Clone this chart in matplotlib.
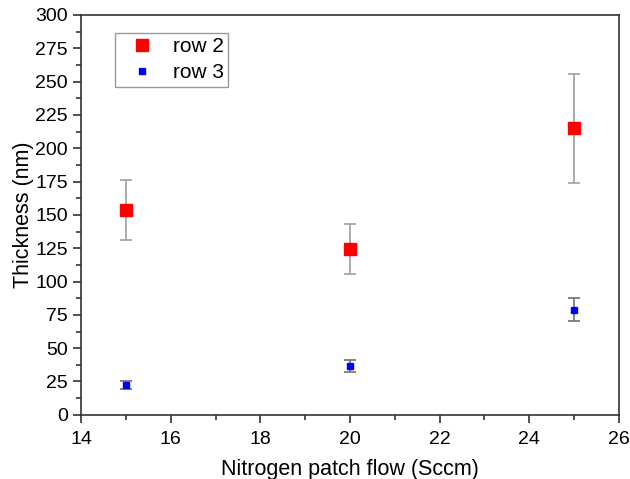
import matplotlib.pyplot as plt
from matplotlib.lines import Line2D
from matplotlib.ticker import MultipleLocator

plt.rcParams['font.family'] = ['Liberation Sans', 'DejaVu Sans']

# Толщина плёнки в зависимости от потока азота
flow = [15, 20, 25]
row2_thick = [154, 124.5, 215]
row2_err = [22.5, 18.5, 41]
row3_thick = [22.5, 37, 79]
row3_err = [3, 4.5, 8.5]

fig = plt.figure(figsize=(6.3, 4.79), dpi=100)
ax = fig.add_axes([0.1286, 0.134, 0.8539, 0.8347])

ax.errorbar(flow, row2_thick, yerr=row2_err, fmt='s', color='#ff0000',
            markersize=9, ecolor='#a0a0a0', elinewidth=1.2, capsize=4,
            capthick=1.2, zorder=3)
ax.errorbar(flow, row3_thick, yerr=row3_err, fmt='s', color='#0000ff',
            markersize=5, ecolor='#707070', elinewidth=1.2, capsize=4,
            capthick=1.2, zorder=3)

ax.set_xlim(14, 26)
ax.set_ylim(0, 300)
ax.xaxis.set_major_locator(MultipleLocator(2))
ax.xaxis.set_minor_locator(MultipleLocator(1))
ax.yaxis.set_major_locator(MultipleLocator(25))
ax.yaxis.set_minor_locator(MultipleLocator(12.5))

for s in ax.spines.values():
    s.set_color('#333333')
    s.set_linewidth(1.2)
ax.tick_params(which='major', direction='out', length=6, width=1.2,
               color='#333333', labelsize=14)
ax.tick_params(axis='x', which='major', pad=6)
ax.tick_params(which='minor', direction='out', length=3.5, width=1.2,
               color='#333333')

ax.set_xlabel('Nitrogen patch flow (Sccm)', fontsize=15.5, labelpad=7.5)
ax.set_ylabel('Thickness (nm)', fontsize=15.5, labelpad=1)

# легенда только с маркерами, без усов
handles = [
    Line2D([], [], ls='none', marker='s', color='#ff0000', markersize=9),
    Line2D([], [], ls='none', marker='s', color='#0000ff', markersize=5),
]
leg = ax.legend(handles, ['row 2', 'row 3'], loc='upper left',
                bbox_to_anchor=(0.063, 0.955), fontsize=15,
                frameon=True, fancybox=False, edgecolor='#808080',
                handlelength=2.2, handletextpad=0.4, borderpad=0.2,
                labelspacing=0.35, borderaxespad=0)
leg.get_frame().set_linewidth(1)

fig.savefig('out.png', dpi=100)
